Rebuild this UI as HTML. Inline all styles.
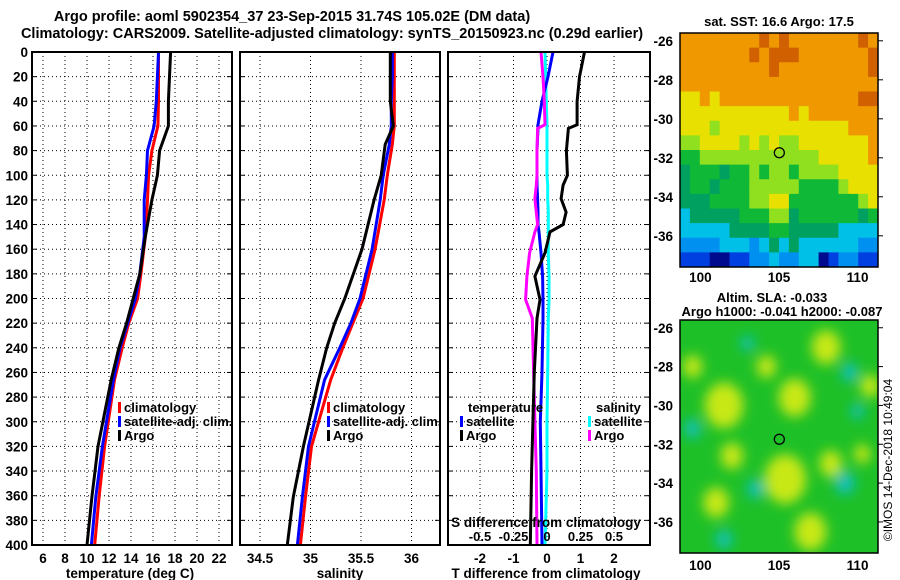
<!DOCTYPE html>
<html><head><meta charset="utf-8"><style>
body{margin:0;background:#fff}
svg{display:block;font-family:"Liberation Sans",sans-serif;font-weight:bold}
text{font-size:13px}
</style></head><body>
<svg id="fig" width="900" height="580" viewBox="0 0 900 580">
<defs><filter id="blur" x="-50%" y="-50%" width="200%" height="200%"><feGaussianBlur stdDeviation="6"/></filter>
<clipPath id="clipMap2"><rect x="680" y="320" width="198" height="233"/></clipPath></defs>
<text x="292" y="21" text-anchor="middle" style="font-size:14.5px">Argo profile: aoml 5902354_37 23-Sep-2015 31.74S 105.02E (DM data)</text>
<text x="332" y="38" text-anchor="middle" style="font-size:14.5px">Climatology: CARS2009. Satellite-adjusted climatology: synTS_20150923.nc (0.29d earlier)</text>
<g id="g"></g>
<text transform="translate(892,460) rotate(-90)" text-anchor="middle" style="font-weight:normal;font-size:12px">©IMOS 14-Dec-2018 10:49:04</text>
</svg>
<script>
const depthT=[0,20,40,60,80,100,120,150,180,200,220,240,266,320,361,400];
const tArgo=[17.6,17.5,17.4,17.4,16.6,16.4,15.9,15.3,14.8,14.2,13.6,12.9,12.2,11.0,10.45,10.0];
const tClim=[16.5,16.5,16.5,16.45,15.9,15.6,15.5,15.3,14.9,14.6,13.8,13.2,12.5,11.6,11.1,10.7];
const tSat=[16.5,16.4,16.3,16.1,15.5,15.4,15.2,15.2,14.8,14.4,13.7,13.0,12.4,11.4,10.8,10.4];
const depthS=[0,20,40,60,75,100,120,160,200,220,240,266,320,361,400];
const sArgo=[35.79,35.79,35.79,35.82,35.74,35.70,35.63,35.51,35.34,35.24,35.16,35.08,34.93,34.83,34.77];
const sClim=[35.83,35.83,35.83,35.83,35.81,35.76,35.73,35.64,35.52,35.42,35.32,35.20,35.01,34.95,34.90];
const sSat=[35.81,35.81,35.80,35.80,35.78,35.72,35.69,35.61,35.49,35.40,35.29,35.14,34.98,34.92,34.87];
const depthD=[0,20,40,59,62,80,100,108,119,130,140,146,163,182,201,216,260,300,340,400];
const dTArgo=[1.12,0.97,0.9,0.9,0.64,0.58,0.61,0.48,0.42,0.57,0.48,0.09,-0.06,-0.36,-0.21,-0.3,-0.38,-0.42,-0.46,-0.5];
const dTSat=[0.18,0.03,-0.15,-0.27,-0.27,-0.3,-0.3,-0.3,-0.28,-0.27,-0.27,-0.24,-0.18,-0.13,-0.12,-0.12,-0.15,-0.2,-0.18,-0.15];
const dSArgo=[-0.045,-0.03,-0.02,-0.015,-0.07,-0.075,-0.075,-0.08,-0.09,-0.08,-0.07,-0.09,-0.13,-0.15,-0.16,-0.11,-0.1,-0.09,-0.08,-0.075];
const dSSat=[-0.015,-0.01,-0.005,0,0,0,0,0.005,0.005,0.01,0.01,0.01,0.01,0.015,0.015,0.01,0.005,0,0,-0.015];
const depthTicks=[0,20,40,60,80,100,120,140,160,180,200,220,240,260,280,300,320,340,360,380,400];
const tTicks=[6,8,10,12,14,16,18,20,22];
const sTicks=[34.5,35,35.5,36];
const dTTicks=[-2,-1,0,1,2];
const dSTicks=[-0.5,-0.25,0,0.25,0.5];
const dSTickLabels=["-0.5","-0.25","0","0.25","0.5"];
const sstRows=["88888888989888888898","88888889899988888889","88888888898888888889","88888888888888888888","77878888888888888899","77777777777878888888","77767777777777777888","66777767676677777778","55666666666666777778","45554556566566667777","45545556666655556777","44455556677555555567","34444455566455555545","33333444455444443333","22223332343433333322","11100112232233012211"];
const slaYellow=[[101.5,-30,1.2],[106,-29.6,1.0],[105.4,-33.8,1.3],[108,-27,0.9],[110.8,-29,0.6],[102,-32.6,0.7],[101,-35,0.8],[107,-36.5,1.0],[104.2,-28,0.6],[108.3,-33,0.7],[110.3,-32.5,0.5],[99.5,-28,0.6]];
const slaCyan=[[109.5,-28.3,0.5],[110,-30.3,0.4],[99.5,-31.2,0.5],[103.5,-34.3,0.5],[109.2,-34,0.6],[101.5,-36.9,0.5],[103,-26.8,0.4]];
const NS="http://www.w3.org/2000/svg";const G=document.getElementById('g');
function el(t,a,p){const e=document.createElementNS(NS,t);for(const k in a)e.setAttribute(k,a[k]);(p||G).appendChild(e);return e;}
const Y0=52,Y1=545;const yD=d=>Y0+d*(Y1-Y0)/400;
const xT=t=>219-(22-t)*11;const xS=s=>260+(s-34.5)*101;const xDT=d=>547+d*33.5;const xDS=s=>547+s*134;
function frame(x0,x1,name){const f=el('rect',{x:x0,y:Y0,width:x1-x0,height:Y1-Y0,fill:'none',stroke:'#000','stroke-width':2});}
function grid(x0,x1,xs){depthTicks.forEach(d=>{if(d>0&&d<400){const l=el('line',{x1:x0,x2:x1,y1:yD(d),y2:yD(d),stroke:'#000','stroke-dasharray':'1 3'});el('line',{x1:x0,x2:x0+5,y1:yD(d),y2:yD(d),stroke:'#000'});el('line',{x1:x1-5,x2:x1,y1:yD(d),y2:yD(d),stroke:'#000'});}});
xs.forEach(x=>{const l=el('line',{x1:x,x2:x,y1:Y0,y2:Y1,stroke:'#000','stroke-dasharray':'1 3'});});}
function line(ds,vs,fx,col,name){const p=el('polyline',{points:ds.map((d,i)=>fx(vs[i]).toFixed(1)+','+yD(d).toFixed(1)).join(' '),fill:'none',stroke:col,'stroke-width':3});}
function txt(x,y,s,anc,name,size){const t=el('text',{x:x,y:y,'text-anchor':anc||'start'});if(size)t.style.fontSize=size+'px';t.textContent=s;return t;}
function leg(x,y,col,s,name){el('rect',{x:x,y:y-10,width:3,height:11,fill:col});txt(x+6,y,s,'start',name);}
grid(32,232,tTicks.map(xT));
line(depthT,tClim,xT,'#f00','temp-climatology-line');line(depthT,tSat,xT,'#00f','temp-satellite-line');line(depthT,tArgo,xT,'#000','temp-argo-line');
frame(32,232,'temperature-panel');
depthTicks.forEach(d=>txt(28,yD(d)+5,String(d),'end','depth-tick-label',13.5));
tTicks.forEach(t=>txt(xT(t),563,String(t),'middle','temp-tick-label',13.5));
txt(130,578,'temperature (deg C)','middle','temp-axis-title',13.5);
leg(118,412,'#f00','climatology','legend-climatology');leg(118,426,'#00f','satellite-adj. clim.','legend-satellite-adj');leg(118,440,'#000','Argo','legend-argo');
grid(240,440,sTicks.map(xS));
line(depthS,sClim,xS,'#f00','sal-climatology-line');line(depthS,sSat,xS,'#00f','sal-satellite-line');line(depthS,sArgo,xS,'#000','sal-argo-line');
frame(240,440,'salinity-panel');
sTicks.forEach(s=>txt(xS(s),563,String(s),'middle','sal-tick-label',13.5));
txt(340,578,'salinity','middle','sal-axis-title',13.5);
leg(327,412,'#f00','climatology','legend-climatology-2');leg(327,426,'#00f','satellite-adj. clim.','legend-satellite-adj-2');leg(327,440,'#000','Argo','legend-argo-2');
grid(448,650,dTTicks.map(xDT));
line(depthD,dSSat,xDS,'#0ff','sdiff-satellite-line');line(depthD,dTSat,xDT,'#00f','tdiff-satellite-line');line(depthD,dSArgo,xDS,'#f0f','sdiff-argo-line');line(depthD,dTArgo,xDT,'#000','tdiff-argo-line');
frame(448,650,'difference-panel');
dTTicks.forEach(t=>txt(xDT(t),563,String(t),'middle','tdiff-tick-label',13.5));
dSTicks.forEach((s,i)=>txt(xDS(s),541,dSTickLabels[i],'middle','sdiff-tick-label'));
txt(546,527,'S difference from climatology','middle','sdiff-axis-title',13.5);
txt(546,578,'T difference from climatology','middle','tdiff-axis-title',13.5);
txt(468,412,'temperature','start','legend-temperature-heading');leg(460,426,'#00f','satellite','legend-t-satellite');leg(460,440,'#000','Argo','legend-t-argo');
txt(596,412,'salinity','start','legend-salinity-heading');leg(588,426,'#0ff','satellite','legend-s-satellite');leg(588,440,'#f0f','Argo','legend-s-argo');
const pal=['#000a8c','#0040e0','#0090f0','#00c0e8','#00a060','#10b838','#90e020','#e8e000','#f09800','#d06000'];
const LON0=98.7,LON1=111.3,LAT0=-25.6,LAT1=-37.6;
const mx=l=>680+(l-LON0)*198/(LON1-LON0);
const my1=l=>33+(l-LAT0)*234/(LAT1-LAT0);const my2=l=>320+(l-LAT0)*233/(LAT1-LAT0);
const nr=sstRows.length,nc=sstRows[0].length,cw=198/nc,ch=234/nr;
sstRows.forEach((r,i)=>{for(let j=0;j<nc;j++){const c=el('rect',{x:(680+j*cw).toFixed(2),y:(33+i*ch).toFixed(2),width:(cw+0.5).toFixed(2),height:(ch+0.5).toFixed(2),fill:pal[+r[j]]});}});
el('circle',{cx:mx(105.02),cy:my1(-31.74),r:5,fill:'none',stroke:'#000','stroke-width':1.3});
el('rect',{x:680,y:33,width:198,height:234,fill:'none',stroke:'#000','stroke-width':1.5});
txt(779,26,'sat. SST: 16.6 Argo: 17.5','middle','sst-map-title');
const m2=el('g',{'clip-path':'url(#clipMap2)'});
el('rect',{x:680,y:320,width:198,height:233,fill:'#1ec028'},m2);
const bl=el('g',{filter:'url(#blur)'},m2);
slaYellow.forEach(b=>{const e=el('ellipse',{cx:mx(b[0]),cy:my2(b[1]),rx:b[2]*16,ry:b[2]*19,fill:'#c8e818'},bl);});
slaCyan.forEach(b=>{const e=el('ellipse',{cx:mx(b[0]),cy:my2(b[1]),rx:b[2]*16,ry:b[2]*19,fill:'#10c0c0'},bl);});
el('circle',{cx:mx(105.02),cy:my2(-31.74),r:5,fill:'none',stroke:'#000','stroke-width':1.3});
el('rect',{x:680,y:320,width:198,height:233,fill:'none',stroke:'#000','stroke-width':1.5});
txt(772,302,'Altim. SLA: -0.033','middle','sla-map-title');txt(782,316,'Argo h1000: -0.041 h2000: -0.087','middle','sla-map-subtitle');
[-26,-28,-30,-32,-34,-36].forEach(l=>{txt(673,my1(l)+5,String(l),'end','lat-tick-label',13.5);txt(673,my2(l)+5,String(l),'end','lat-tick-label',13.5);el('line',{x1:878,x2:883,y1:my1(l),y2:my1(l),stroke:'#000'});el('line',{x1:878,x2:883,y1:my2(l),y2:my2(l),stroke:'#000'});});
[100,105,110].forEach(l=>{txt(mx(l),282,String(l),'middle','lon-tick-label',13.5);txt(mx(l),570,String(l),'middle','lon-tick-label',13.5);});
</script>
</body></html>
